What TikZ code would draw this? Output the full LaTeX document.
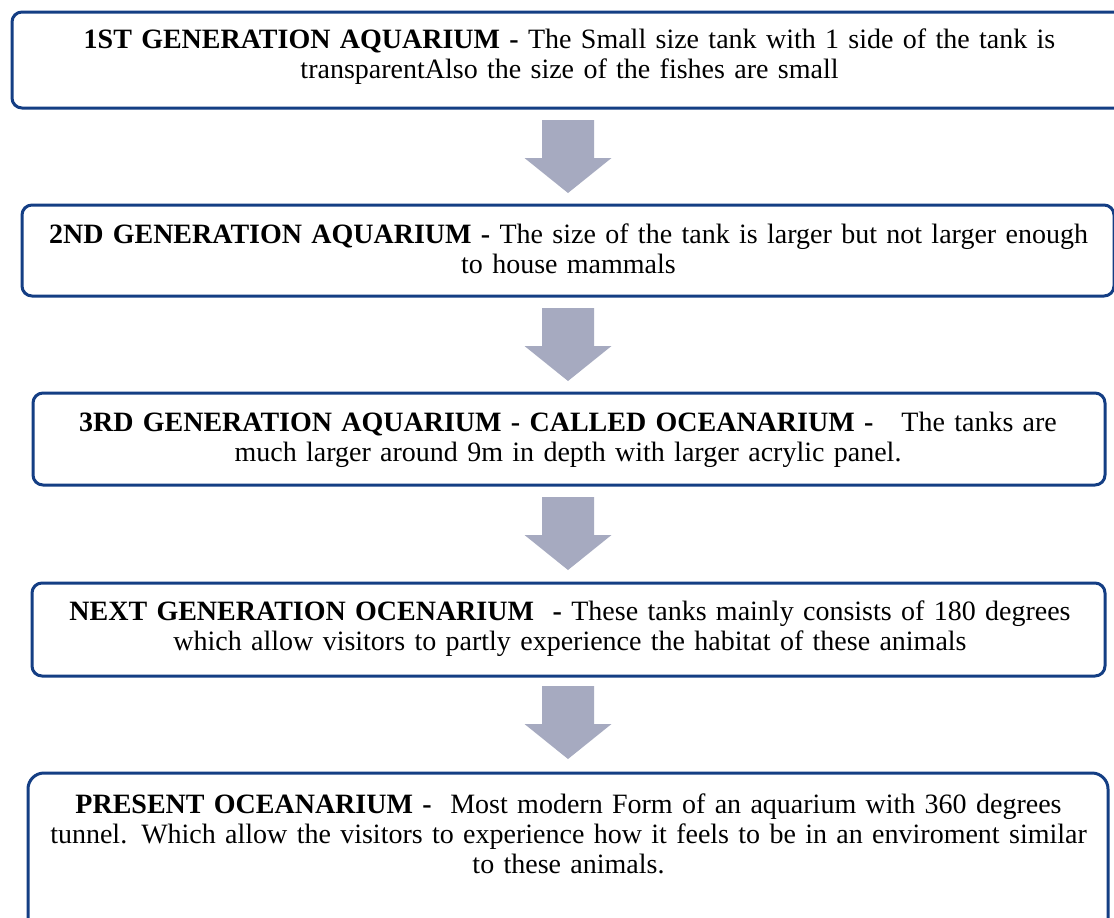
\documentclass[tikz,border=0pt]{standalone}
\usepackage{fontspec}
\setmainfont{Liberation Serif}
\definecolor{boxline}{RGB}{20,62,132}
\definecolor{arrowcol}{RGB}{166,170,192}
\tikzset{
  genbox/.style={draw=boxline, line width=3pt, rounded corners=10pt, minimum width=#1, inner sep=0pt},
  gentext/.style={anchor=base, text width=1110pt, align=center, inner sep=0pt,
     font=\fontsize{28pt}{30pt}\selectfont},
  blockarrow/.pic={\fill[arrowcol] (-26,0) -- (26,0) -- (26,38) -- (43.5,38) -- (0,73) -- (-43.5,38) -- (-26,38) -- cycle;}
}
\begin{document}
\begin{tikzpicture}[x=1pt,y=-1pt]
\clip (0,0) rectangle (1114,918);
\fill[white] (0,0) rectangle (1114,918);
% boxes
\node[genbox=1115pt, minimum height=96pt] (b1) at (569.5,60) {};
\node[genbox=1092pt, minimum height=91pt] (b2) at (568,250.5) {};
\node[genbox=1072pt, minimum height=92pt] (b3) at (569,439) {};
\node[genbox=1073pt, minimum height=93pt] (b4) at (568.5,629.5) {};
\node[genbox=1080pt, minimum height=164pt, rounded corners=16pt] (b5) at (568,855) {};
% texts
\node[gentext] (t1) at (569.5,48) {\textbf{1ST GENERATION AQUARIUM -} The Small size tank with 1 side of the tank is\\ transparentAlso the size of the fishes are small};
\node[gentext] (t2) at (568.5,243) {\textbf{2ND GENERATION AQUARIUM -} The size of the tank is larger but not larger enough\\ to house mammals};
\node[gentext] (t3) at (568,431) {\textbf{3RD GENERATION AQUARIUM - CALLED OCEANARIUM -}\ \ \ The tanks are\\ much larger around 9m in depth with larger acrylic panel.};
\node[gentext] (t4) at (570,620) {\textbf{NEXT GENERATION OCENARIUM\ \ -} These tanks mainly consists of 180 degrees\\ which allow visitors to partly experience the habitat of these animals};
\node[gentext] (t5) at (568.5,813) {\textbf{PRESENT OCEANARIUM -}\ \ Most modern Form of an aquarium with 360 degrees\\ tunnel. Which allow the visitors to experience how it feels to be in an enviroment similar\\ to these animals.};
% arrows
\pic at (568,120) {blockarrow};
\pic at (568,308) {blockarrow};
\pic at (568,497) {blockarrow};
\pic at (568,686) {blockarrow};
\end{tikzpicture}
\end{document}
